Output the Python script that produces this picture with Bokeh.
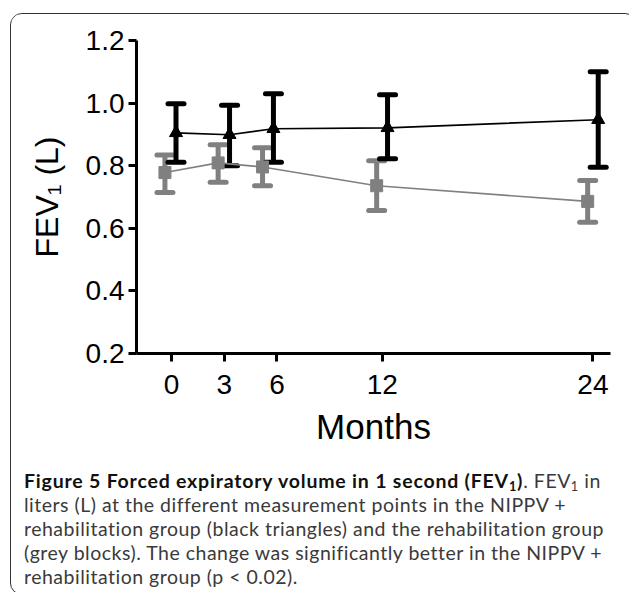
from bokeh.plotting import figure
from bokeh.models import ColumnDataSource, Whisker, TeeHead, FixedTicker, NumeralTickFormatter, Div, Range1d
from bokeh.layouts import column
from bokeh.embed import file_html
from bokeh.resources import INLINE

# ---- data ----
month_ticks = [0, 3, 6, 12, 24]
y_ticks = [0.2, 0.4, 0.6, 0.8, 1.0, 1.2]

nippv_x = [0.25, 3.3, 5.8, 12.3, 24.3]
nippv_mean = [0.905, 0.899, 0.918, 0.921, 0.947]
nippv_upper = [0.998, 0.993, 1.03, 1.027, 1.10]
nippv_lower = [0.811, 0.800, 0.811, 0.822, 0.795]

rehab_x = [-0.38, 2.65, 5.18, 11.68, 23.7]
rehab_mean = [0.778, 0.809, 0.796, 0.736, 0.686]
rehab_upper = [0.834, 0.867, 0.857, 0.816, 0.753]
rehab_lower = [0.714, 0.747, 0.736, 0.657, 0.619]

BLACK = "#000000"
GREY = "#808080"
FONT = "Liberation Sans"

p = figure(width=615, height=444, x_range=Range1d(-2, 25), y_range=Range1d(0.2, 1.2),
           output_backend="svg", toolbar_location=None,
           min_border_left=125, min_border_right=16, min_border_top=26, min_border_bottom=105)
p.outline_line_color = None
p.grid.visible = False
p.background_fill_color = "white"
p.border_fill_color = "white"

for ax in (p.xaxis[0], p.yaxis[0]):
    ax.axis_line_width = 3
    ax.axis_line_color = BLACK
    ax.major_tick_line_width = 3
    ax.major_tick_line_color = BLACK
    ax.major_tick_out = 8
    ax.major_tick_in = 0
    ax.minor_tick_line_color = None
    ax.major_label_text_font = FONT
    ax.major_label_text_font_size = "28px"
    ax.major_label_text_color = BLACK
    ax.axis_label_text_font = FONT
    ax.axis_label_text_font_style = "normal"
    ax.axis_label_text_color = BLACK

p.xaxis.ticker = FixedTicker(ticks=month_ticks)
p.yaxis.ticker = FixedTicker(ticks=y_ticks)
p.yaxis.formatter = NumeralTickFormatter(format="0.0")
p.xaxis.axis_label = "Months"
p.xaxis.axis_label_text_font_size = "35px"
p.xaxis.major_label_standoff = 13
p.xaxis.axis_label_standoff = 10
p.yaxis.axis_label = "FEV\u2081 (L)"
p.yaxis.axis_label_text_font_size = "32px"
p.yaxis.major_label_standoff = 4
p.yaxis.axis_label_standoff = 18

rehab = ColumnDataSource(dict(x=rehab_x, y=rehab_mean, up=rehab_upper, lo=rehab_lower))
nippv = ColumnDataSource(dict(x=nippv_x, y=nippv_mean, up=nippv_upper, lo=nippv_lower))

# grey group (rehabilitation)
p.line("x", "y", source=rehab, line_color=GREY, line_width=1.6)
p.add_layout(Whisker(source=rehab, base="x", upper="up", lower="lo", dimension="height",
                     line_color=GREY, line_width=5,
                     upper_head=TeeHead(size=16, line_color=GREY, line_width=5, line_cap="round"),
                     lower_head=TeeHead(size=16, line_color=GREY, line_width=5, line_cap="round")))
p.scatter("x", "y", source=rehab, marker="square", size=12, fill_color=GREY, line_color=GREY)

# black group (NIPPV + rehabilitation)
p.line("x", "y", source=nippv, line_color=BLACK, line_width=1.6)
p.add_layout(Whisker(source=nippv, base="x", upper="up", lower="lo", dimension="height",
                     line_color=BLACK, line_width=5,
                     upper_head=TeeHead(size=16, line_color=BLACK, line_width=5, line_cap="round"),
                     lower_head=TeeHead(size=16, line_color=BLACK, line_width=5, line_cap="round")))
p.scatter("x", "y", source=nippv, marker="triangle", size=13, fill_color=BLACK, line_color=BLACK)

SUB = '<sub style="font-size:65%;line-height:0;vertical-align:-0.25em">1</sub>'
caption = Div(
    text=('<b style="color:#111;letter-spacing:0.8px">Figure 5 Forced expiratory volume in 1 second (FEV' + SUB + ')</b>. '
          'FEV' + SUB + ' in<br>'
          'liters (L) at the different measurement points in the NIPPV +<br>'
          'rehabilitation group (black triangles) and the rehabilitation group<br>'
          '(grey blocks). The change was significantly better in the NIPPV +<br>'
          'rehabilitation group (p &lt; 0.02).'),
    width=615, height=126,
    styles={"font-family": "Lato", "font-size": "19.5px", "line-height": "24px",
            "letter-spacing": "0.5px",
            "color": "#3a3a3a", "padding-left": "8px", "padding-top": "6px",
            "white-space": "nowrap"},
)

layout = column(p, caption, spacing=0,
                styles={"border": "1.5px solid #333", "border-radius": "12px",
                        "margin-left": "10px", "margin-top": "13px", "background": "white",
                        "overflow": "hidden"})

open("out.html", "w").write(file_html(layout, INLINE))
